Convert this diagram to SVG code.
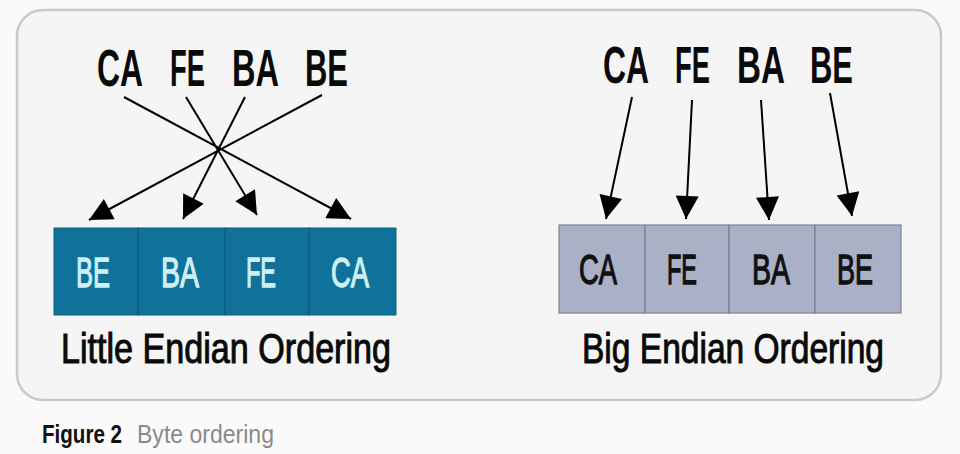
<svg xmlns="http://www.w3.org/2000/svg" width="960" height="454" viewBox="0 0 960 454">
<style>
.hdr{font-family:"Liberation Sans",Arial,sans-serif;font-weight:bold;font-size:52px;fill:#0a0a0a}
.le{fill:#10729a;stroke:#0c5c7c;stroke-width:1}
.be{fill:#aab0c6;stroke:#7d8396;stroke-width:1.2}
.ltxt{font-family:"Liberation Sans",Arial,sans-serif;font-size:42px;fill:#cdf0f5;stroke:#cdf0f5;stroke-width:1.3;text-anchor:middle}
.btxt{font-family:"Liberation Sans",Arial,sans-serif;font-size:42px;fill:#111;stroke:#111;stroke-width:1.3;text-anchor:middle}
.lbl{font-family:"Liberation Sans",Arial,sans-serif;font-size:42px;fill:#0a0a0a;stroke:#0a0a0a;stroke-width:1}
.conn line{stroke:#000;stroke-width:2;marker-end:url(#ah)}
</style>
<defs>
<marker id="ah" viewBox="0 0 10 10" refX="10" refY="5" markerWidth="25" markerHeight="23" markerUnits="userSpaceOnUse" orient="auto">
<path d="M0,0 L10,5 L0,10 z" fill="#000"/>
</marker>
</defs>
<rect width="960" height="454" fill="#fafafa"/>
<rect x="17" y="10" width="924" height="390" rx="26" fill="#f5f5f5" stroke="#c9c9c9" stroke-width="2.5"/>

<g id="left-header">
<text class="hdr" x="97" y="86" textLength="46" lengthAdjust="spacingAndGlyphs">CA</text>
<text class="hdr" x="170" y="86" textLength="35" lengthAdjust="spacingAndGlyphs">FE</text>
<text class="hdr" x="232" y="86" textLength="47" lengthAdjust="spacingAndGlyphs">BA</text>
<text class="hdr" x="305" y="86" textLength="43" lengthAdjust="spacingAndGlyphs">BE</text>
</g>

<g id="right-header">
<text class="hdr" x="603" y="83" textLength="46" lengthAdjust="spacingAndGlyphs">CA</text>
<text class="hdr" x="675" y="83" textLength="35" lengthAdjust="spacingAndGlyphs">FE</text>
<text class="hdr" x="737" y="83" textLength="48" lengthAdjust="spacingAndGlyphs">BA</text>
<text class="hdr" x="810" y="83" textLength="43" lengthAdjust="spacingAndGlyphs">BE</text>
</g>

<g id="little-endian">
<rect class="le" x="54" y="228" width="84" height="87"/>
<rect class="le" x="138" y="228" width="87" height="87"/>
<rect class="le" x="225" y="228" width="84" height="87"/>
<rect class="le" x="309" y="228" width="87" height="87"/>
<text class="ltxt" x="93" y="287" textLength="34" lengthAdjust="spacingAndGlyphs">BE</text>
<text class="ltxt" x="180" y="287" textLength="38" lengthAdjust="spacingAndGlyphs">BA</text>
<text class="ltxt" x="261" y="287" textLength="30" lengthAdjust="spacingAndGlyphs">FE</text>
<text class="ltxt" x="350" y="287" textLength="38" lengthAdjust="spacingAndGlyphs">CA</text>
<text class="lbl" x="61" y="363" textLength="330" lengthAdjust="spacingAndGlyphs">Little Endian Ordering</text>
</g>

<g id="big-endian">
<rect class="be" x="559" y="225" width="86" height="88"/>
<rect class="be" x="645" y="225" width="84" height="88"/>
<rect class="be" x="729" y="225" width="86" height="88"/>
<rect class="be" x="815" y="225" width="86" height="88"/>
<text class="btxt" x="598" y="284" textLength="38" lengthAdjust="spacingAndGlyphs">CA</text>
<text class="btxt" x="682" y="284" textLength="30" lengthAdjust="spacingAndGlyphs">FE</text>
<text class="btxt" x="771" y="284" textLength="38" lengthAdjust="spacingAndGlyphs">BA</text>
<text class="btxt" x="855" y="284" textLength="36" lengthAdjust="spacingAndGlyphs">BE</text>
<text class="lbl" x="582" y="363" textLength="302" lengthAdjust="spacingAndGlyphs">Big Endian Ordering</text>
</g>

<g id="connectors" class="conn">
<line x1="124" y1="97" x2="351" y2="219"/>
<line x1="186" y1="97" x2="257" y2="215"/>
<line x1="245" y1="97" x2="183" y2="219"/>
<line x1="322" y1="95" x2="89" y2="220"/>
<line x1="632" y1="97" x2="606" y2="219"/>
<line x1="692" y1="100" x2="686" y2="219"/>
<line x1="761" y1="100" x2="769" y2="220"/>
<line x1="830" y1="93" x2="852" y2="216"/>
</g>

<g id="caption">
<text x="42" y="443" font-family="Liberation Sans,Arial,sans-serif" font-weight="bold" font-size="26" fill="#111" textLength="80" lengthAdjust="spacingAndGlyphs">Figure 2</text>
<text x="137" y="443" font-family="Liberation Sans,Arial,sans-serif" font-size="26" fill="#8a8a8a" textLength="137" lengthAdjust="spacingAndGlyphs">Byte ordering</text>
</g>
</svg>
